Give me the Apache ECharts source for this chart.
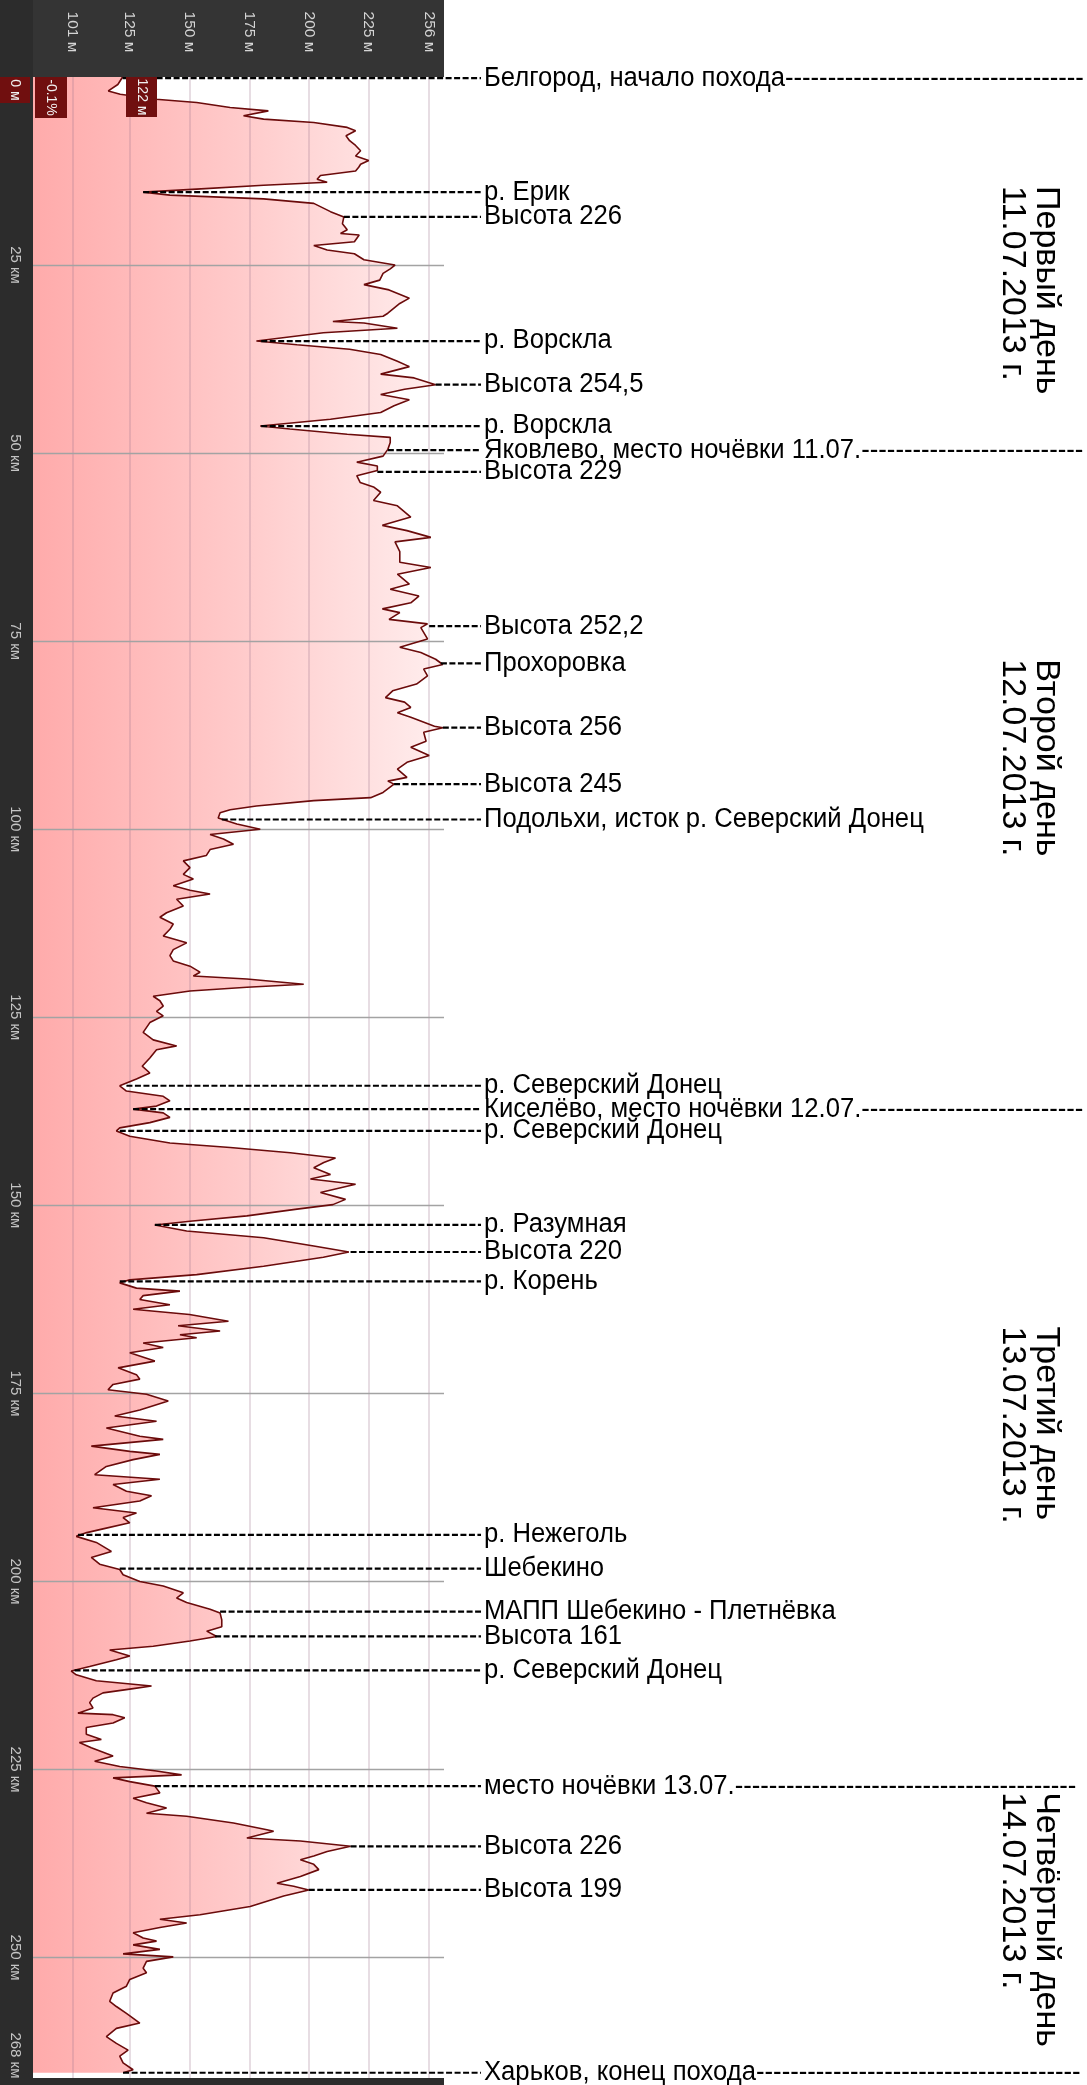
<!DOCTYPE html>
<html><head><meta charset="utf-8">
<script src="https://cdn.jsdelivr.net/npm/echarts@6/dist/echarts.min.js"></script>
<style>html,body{margin:0;padding:0;background:#fff}#c{width:1087px;height:2085px}</style>
</head><body><div id="c"></div>
<script>
// ---- profile data: distance (km) and altitude (m) ----
const kmData = [0,1.0,1.85,2.3,2.95,3.4,4.06,4.5,5.16,5.6,6.04,6.7,7.14,7.8,8.47,9.1,9.8,10.5,11.1,11.6,12.0,12.5,13.1,13.6,14.0,14.4,14.9,15.3,15.7,16.2,16.8,17.9,18.6,19.5,20.3,20.8,21.0,21.9,22.4,23.0,23.5,24.3,25.0,25.5,26.1,27.0,27.6,28.3,29.4,30.1,31.4,31.8,32.5,32.7,33.4,34.0,35.1,35.6,36.2,36.9,37.8,38.5,39.5,40.0,40.9,41.5,42.2,42.9,43.7,44.6,45.5,46.4,46.8,47.5,47.9,48.6,49.5,50.4,51.2,51.7,52.3,53.0,53.9,54.5,55.2,56.3,57.0,58.5,59.6,60.3,61.2,61.8,63.1,64.5,65.2,66.1,67.4,68.1,69.0,69.9,70.7,71.2,72.1,72.7,73.2,74.7,75.8,76.5,77.4,78.1,78.7,79.6,80.7,81.6,82.5,83.1,83.8,84.5,85.1,86.3,86.5,87.1,88.3,89.1,90.2,91.1,92.0,93.1,93.6,94.0,95.1,95.8,96.2,96.9,97.4,97.8,98.5,99.3,100.0,100.7,101.3,102.0,102.7,103.5,104.2,105.1,106.0,106.6,107.5,108.1,108.6,109.3,110.2,111.1,111.7,112.6,113.3,114.2,115.1,116.0,116.8,117.5,118.2,119.0,119.5,119.9,120.6,121.0,121.5,122.2,122.8,123.5,124.2,124.8,125.7,127.0,128.0,128.8,129.3,130.4,131.5,132.4,133.2,134.1,134.8,135.5,136.1,136.8,137.2,137.7,138.3,139.0,139.7,140.1,140.8,141.7,142.3,143.0,143.7,144.3,145.0,145.9,146.5,147.2,148.3,149.2,149.9,150.5,151.4,152.1,152.6,153.4,154.3,155.4,156.2,156.9,158.1,159.2,159.9,160.3,161.0,161.4,162.0,162.5,163.2,163.8,164.5,165.4,166.0,166.7,167.2,167.6,168.3,168.9,169.6,170.7,171.6,172.5,173.1,173.8,174.5,175.1,176.0,177.2,178.0,178.7,179.6,180.7,181.1,182.0,182.7,183.1,183.8,184.7,185.8,186.4,187.1,188.0,188.6,189.3,190.2,190.9,191.5,192.2,193.0,193.5,194.0,194.8,196.0,196.8,197.7,198.4,199.1,200.0,200.6,201.5,202.2,202.8,203.7,204.2,205.1,206.0,206.6,207.3,207.9,208.6,209.1,209.9,210.4,211.3,211.9,212.4,213.2,213.9,214.3,214.8,215.5,216.1,216.8,217.5,217.7,218.1,218.8,219.4,220.3,221.0,221.4,222.1,223.2,223.9,224.6,225.2,225.7,226.1,226.6,227.2,228.1,228.8,229.4,230.1,230.8,231.2,232.1,233.0,233.2,234.1,234.5,235.2,235.9,236.5,237.0,237.6,238.3,239.2,240.1,240.5,241.0,241.8,243.2,244.3,244.9,245.4,246.0,246.7,247.4,247.8,248.3,248.9,249.5,249.9,250.5,251.4,252.0,252.9,253.8,254.7,255.8,256.5,257.4,258.7,259.4,260.5,261.4,262.3,263.1,264.0,264.9,265.3];
const altData = [122,120,116,121,136,153,167,183,172.6,181,202,216,219.5,215.5,217,219.5,221.6,219.5,225,221.6,220.8,219.5,204.8,203.4,207.6,181,153,130.6,141.8,181,202,209,214.6,214,216,213.2,221,219,202,207.6,219,223,236,234,231,229.6,223,233.5,242,238,233,231,210,223,237,206,178,195,217,230,237,242,230,244,253,240,230,242,235.6,230,209,179.6,192,216,234,234,233,231,220,228.6,228.6,220,221.4,227,230,227,237,242.6,230.7,241,251,236,238,238,251,237,242,234,246,242.6,230.7,238,233.5,249.6,246.8,249.6,238,246.8,253,256,248,249.6,245,235,232,240,242.6,237,242.6,252.5,256,248,249,242.6,250.3,241,237,241,233,235.6,231,225.8,202,178,167,162.8,162,169.8,179.6,158.6,164.2,168.4,158.6,157,147.4,150.2,147.4,151.6,143.2,150.2,158.6,144.6,147.4,140.4,137.6,143.2,141.8,139,148.8,143.2,141.8,143.2,150.2,154.4,151.6,174,197.8,174,150.2,134.8,137.6,139,136.2,139,133.4,130.6,134.8,144.6,136.2,133.4,130.2,133.4,127.8,120.8,123.6,139,141.8,136.2,126.4,139,141.8,133.4,120.8,119.4,125,141.8,167,192.2,211.1,206.2,202,209,200.6,219.5,204.8,215.3,210,195,174,150.2,135.5,148.8,181,202,216.7,206,181,153,125,120.8,127.8,146,130.6,129.2,141.8,126.4,150,166.3,145.2,162.8,146,153,130.6,139,125,135.5,120.1,127.8,129.2,118,115.9,132,141.1,129.2,118.7,136.2,115.2,129.2,139,108.9,125,137.6,126.4,115.2,110.3,137.6,118,123.6,134.1,129.2,109.6,127.8,122.2,125,113.8,107,102.6,111,117.3,108.9,112.4,120.8,122.2,129.2,139,147.4,144.6,148.8,158.6,162.8,163.5,163.5,157.2,161.4,150.2,134.8,116.6,125,119.4,108.2,100.5,102.6,111,134.1,125,113.8,109.6,108.2,109.6,103.3,118,122.9,118,106.8,106.8,113.1,103.9,108.9,118,110.3,120.8,136.2,146.7,118,125,135.5,137.6,126.4,132,140.4,132,148.8,168.4,182.4,185.2,174,196.4,217.4,207.6,202,196.4,202,204.1,196.4,186.6,193.6,199.9,189.4,175.4,154.4,137.6,148.8,137.6,126.4,130.6,136.2,126.4,137.6,122.2,143.2,132,130.6,132,125,123.6,118,116.6,119.4,123.6,129.2,119.4,115.2,119.4,124.3,120.8,122.2,126.4,122.2];

// ---- axis ticks ----
const altLabelValues = [101,125,150,175,200,225,250.5];
const altLabelTexts = ['101 м','125 м','150 м','175 м','200 м','225 м','256 м'];
const altGridValues = [101,125,150,175,200,225,250];
const kmGridValues = [25,50,75,100,125,150,175,200,225,250];
const kmLabelValues = [25,50,75,100,125,150,175,200,225,250,263];
const kmLabelTexts = ['25 км','50 км','75 км','100 км','125 км','150 км','175 км','200 км','225 км','250 км','268 км'];

// ---- annotations ----
const noteNames = ['Белгород, начало похода','р. Ерик','Высота 226','р. Ворскла','Высота 254,5','р. Ворскла','Яковлево, место ночёвки 11.07.','Высота 229','Высота 252,2','Прохоровка','Высота 256','Высота 245','Подольхи, исток р. Северский Донец','р. Северский Донец','Киселёво, место ночёвки 12.07.','р. Северский Донец','р. Разумная','Высота 220','р. Корень','р. Нежеголь','Шебекино','МАПП Шебекино - Плетнёвка','Высота 161','р. Северский Донец','место ночёвки 13.07.','Высота 226','Высота 199','Харьков, конец похода'];
const noteKm = [0.15,15.3,18.6,35.1,40.9,46.4,49.6,52.5,73.0,77.95,86.5,94.0,98.7,134.1,137.2,140.1,152.6,156.2,160.1,193.8,198.3,204.0,207.3,211.8,227.2,235.2,241.0,265.3];
const noteAlt = [122,130.6,214.6,180,253,180,233,228.6,250.3,255.2,256,235.6,163.5,123.6,126.4,120.8,135.5,217.4,120.8,103.3,120.8,162.8,160.7,101.9,135.5,217.4,199.9,122.2];
const noteTail = [1,0,0,0,0,0,1,0,0,0,0,0,0,0,1,0,0,0,0,0,0,0,0,0,1,0,0,1];

// ---- day captions ----
const dayTitles = ['Первый день','Второй день','Третий день','Четвёртый день'];
const dayDates = ['11.07.2013 г.','12.07.2013 г.','13.07.2013 г.','14.07.2013 г.'];
const dayStartKm = [14.5,77.4,166.1,228.0];

const X_MIN = 84.5, X_MAX = 256.5, KM_MAX = 266;
const FONT = '"Liberation Sans", Arial, sans-serif';
const NOTE_SIZE = 27, NOTE_SX = 0.95, NOTE_X = 484;
const profile = kmData.map((k, i) => [altData[i], k]);

const mctx = document.createElement('canvas').getContext('2d');
mctx.font = NOTE_SIZE + 'px ' + FONT;
function withTail(t) {
  const w = mctx.measureText(t).width, hw = mctx.measureText('-').width;
  const n = Math.max(0, Math.floor(((1084 - NOTE_X) / NOTE_SX - w) / hw));
  return t + '-'.repeat(n);
}

const chart = echarts.init(document.getElementById('c'));
const option = {
  animation: false,
  backgroundColor: '#fff',
  grid: {left: 33, top: 77, width: 411, height: 2001},
  xAxis: {
    type: 'value', position: 'top', min: X_MIN, max: X_MAX, z: 5,
    axisLine: {show: false}, axisTick: {show: false}, splitLine: {show: false},
    axisLabel: {customValues: altLabelValues, formatter: v => altLabelTexts[altLabelValues.indexOf(v)], rotate: -90,
      align: 'center', verticalAlign: 'middle', margin: 45, color: '#d4d4d4', fontSize: 15.5, fontFamily: FONT}
  },
  yAxis: {
    type: 'value', inverse: true, min: 0, max: KM_MAX, z: 5,
    axisLine: {show: false}, axisTick: {show: false}, splitLine: {show: false},
    axisLabel: {customValues: kmLabelValues, formatter: v => kmLabelTexts[kmLabelValues.indexOf(v)], rotate: -90,
      align: 'center', verticalAlign: 'middle', margin: 18, color: '#c4c4c4', fontSize: 15, fontFamily: FONT}
  },
  series: [
    {
      type: 'custom', z: 1, silent: true, data: profile, encode: {x: 0, y: 1},
      renderItem: function (params, api) {
        if (params.dataIndex !== 0) return null;
        const pts = profile.map(p => api.coord(p));
        const left = api.coord([X_MIN, 0])[0];
        const right = api.coord([X_MAX, 0])[0];
        pts.unshift([left, pts[0][1]]);
        pts.push([left, pts[pts.length - 1][1]]);
        return {type: 'polygon', shape: {points: pts},
          style: {fill: new echarts.graphic.LinearGradient(left, 0, right, 0,
            [{offset: 0, color: '#ffabab'}, {offset: 0.5, color: '#ffcaca'}, {offset: 1, color: '#ffeeee'}], true)}};
      }
    },
    {
      type: 'line', z: 3, data: profile, symbol: 'none', silent: true,
      lineStyle: {color: '#6b0b0b', width: 1.6},
      markLine: {
        silent: true, symbol: 'none', z: 2, animation: false, label: {show: false},
        data: altGridValues.map(v => ({xAxis: v, lineStyle: {color: 'rgba(160,120,145,0.25)', width: 2, type: 'solid'}}))
          .concat(kmGridValues.map(v => ({yAxis: v, lineStyle: {color: '#a3a3a3', width: 1.3, type: 'solid'}})))
      }
    },
    {
      type: 'custom', z: 10, silent: true,
      data: noteKm.map((k, i) => [noteAlt[i], k, i]), encode: {x: 0, y: 1},
      renderItem: function (params, api) {
        const i = api.value(2);
        const p = api.coord([api.value(0), api.value(1)]);
        const txt = noteTail[i] ? withTail(noteNames[i]) : noteNames[i];
        return {type: 'group', children: [
          {type: 'line', shape: {x1: p[0], y1: p[1], x2: NOTE_X - 3, y2: p[1]},
            style: {stroke: '#000', lineWidth: 2.2, lineDash: [6, 2.5]}},
          {type: 'text', x: NOTE_X, y: p[1], scaleX: NOTE_SX,
            style: {text: txt, fill: '#000', fontSize: NOTE_SIZE, fontFamily: FONT, align: 'left', verticalAlign: 'middle'}}
        ]};
      }
    }
  ]
};
chart.setOption(option);

const g = [
  {type: 'rect', z: -1, shape: {x: 0, y: 0, width: 444, height: 77}, style: {fill: '#343434'}},
  {type: 'rect', z: -1, shape: {x: 0, y: 0, width: 33, height: 2085}, style: {fill: '#2c2c2c'}},
  {type: 'rect', z: -1, shape: {x: 33, y: 2078, width: 411, height: 7}, style: {fill: '#2c2c2c'}},
  {type: 'rect', z: 100, shape: {x: 0, y: 77, width: 30, height: 26}, style: {fill: '#700f0f'}},
  {type: 'text', z: 101, x: 15, y: 90, rotation: -Math.PI / 2, style: {text: '0 м', fill: '#f0f0f0', fontSize: 14, fontFamily: FONT, align: 'center', verticalAlign: 'middle'}},
  {type: 'rect', z: 100, shape: {x: 35, y: 77, width: 32, height: 41}, style: {fill: '#700f0f'}},
  {type: 'text', z: 101, x: 51, y: 97.5, rotation: -Math.PI / 2, style: {text: '-0.1%', fill: '#f0f0f0', fontSize: 14, fontFamily: FONT, align: 'center', verticalAlign: 'middle'}},
  {type: 'rect', z: 100, shape: {x: 126, y: 77, width: 31, height: 40}, style: {fill: '#700f0f'}},
  {type: 'text', z: 101, x: 141.5, y: 97, rotation: -Math.PI / 2, style: {text: '122 м', fill: '#f0f0f0', fontSize: 14, fontFamily: FONT, align: 'center', verticalAlign: 'middle'}}
];
dayTitles.forEach((t, i) => {
  const y = chart.convertToPixel({yAxisIndex: 0}, dayStartKm[i]);
  g.push({type: 'text', z: 50, x: 1029, y: y, rotation: -Math.PI / 2,
    style: {text: t + '\n' + dayDates[i], fill: '#000', fontSize: 34, lineHeight: 34, fontFamily: FONT, align: 'left', verticalAlign: 'middle'}});
});
chart.setOption({graphic: g});
</script>
</body></html>
